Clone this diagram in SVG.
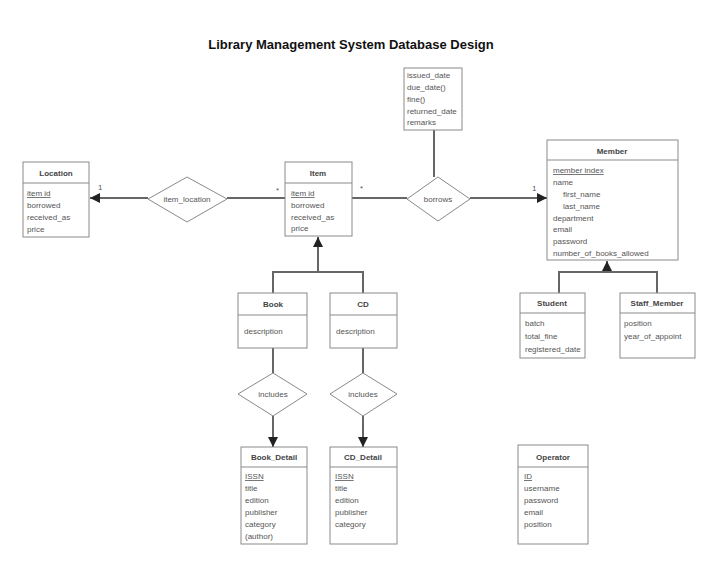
<svg xmlns="http://www.w3.org/2000/svg" width="720" height="565" viewBox="0 0 720 565">
<defs>
<marker id="arr" viewBox="0 0 10 10" refX="10" refY="5" markerWidth="5" markerHeight="5" orient="auto" markerUnits="strokeWidth">
<path d="M0,0 L10,5 L0,10 z" fill="#222"/>
</marker>
<style>
.box{fill:#fff;stroke:#8a8a8a;stroke-width:1}
.div{stroke:#8a8a8a;stroke-width:1}
.t{font-family:"Liberation Sans",Arial,sans-serif;font-size:8px;fill:#555}
.h{font-family:"Liberation Sans",Arial,sans-serif;font-size:8px;fill:#444;font-weight:bold;text-anchor:middle}
.c{text-anchor:middle}
.u{text-decoration:underline}
.ln{fill:none;stroke:#666;stroke-width:2}
.dm{fill:#fff;stroke:#8a8a8a;stroke-width:1}
.title{font-family:"Liberation Sans",Arial,sans-serif;font-size:13px;font-weight:bold;fill:#111;text-anchor:middle}
</style>
</defs>
<rect width="720" height="565" fill="#fff"/>
<text class="title" x="351" y="49">Library Management System Database Design</text>

<g id="connectors">
<line class="ln" x1="148" y1="198" x2="90" y2="198" marker-end="url(#arr)"/>
<line class="ln" x1="227" y1="198" x2="285" y2="198"/>
<line class="ln" x1="352" y1="198" x2="407" y2="198"/>
<line class="ln" x1="470" y1="198" x2="547" y2="198" marker-end="url(#arr)"/>
<line class="ln" x1="434" y1="130" x2="434" y2="177"/>
<polyline class="ln" points="273,293 273,272 363,272 363,293"/>
<line class="ln" x1="318" y1="272" x2="318" y2="237" marker-end="url(#arr)"/>
<polyline class="ln" points="559,293 559,272 657,272 657,293"/>
<line class="ln" x1="607" y1="272" x2="607" y2="261" marker-end="url(#arr)"/>
<line class="ln" x1="273" y1="348" x2="273" y2="373"/>
<line class="ln" x1="273" y1="416" x2="273" y2="447" marker-end="url(#arr)"/>
<line class="ln" x1="363" y1="348" x2="363" y2="373"/>
<line class="ln" x1="363" y1="416" x2="363" y2="447" marker-end="url(#arr)"/>
<text class="t" x="98" y="190">1</text>
<text class="t" x="276" y="193">*</text>
<text class="t" x="360" y="191">*</text>
<text class="t" x="532" y="191">1</text>
</g>

<g id="location">
<rect class="box" x="23" y="162" width="66" height="75"/>
<line class="div" x1="23" y1="183" x2="89" y2="183"/>
<text class="h" x="56" y="176">Location</text>
<text class="t u" x="27" y="196">item id</text>
<text class="t" x="27" y="208">borrowed</text>
<text class="t" x="27" y="220">received_as</text>
<text class="t" x="27" y="232">price</text>
</g>

<g id="item_location">
<polygon class="dm" points="148,199 187,177 227,199 187,222"/>
<text class="t c" x="187" y="202">item_location</text>
</g>

<g id="item">
<rect class="box" x="285" y="162" width="67" height="74"/>
<line class="div" x1="285" y1="183" x2="352" y2="183"/>
<text class="h" x="318" y="176">Item</text>
<text class="t u" x="291" y="196">item id</text>
<text class="t" x="291" y="208">borrowed</text>
<text class="t" x="291" y="220">received_as</text>
<text class="t" x="291" y="231">price</text>
</g>

<g id="borrows_attrs">
<rect class="box" x="404" y="68" width="58" height="62"/>
<text class="t" x="407" y="78">issued_date</text>
<text class="t" x="407" y="90">due_date()</text>
<text class="t" x="407" y="102">fine()</text>
<text class="t" x="407" y="114">returned_date</text>
<text class="t" x="407" y="125">remarks</text>
</g>

<g id="borrows">
<polygon class="dm" points="407,199 438,177 470,199 438,221"/>
<text class="t c" x="438" y="202">borrows</text>
</g>

<g id="member">
<rect class="box" x="547" y="140" width="131" height="120"/>
<line class="div" x1="547" y1="160" x2="678" y2="160"/>
<text class="h" x="612" y="154">Member</text>
<text class="t u" x="553" y="173">member index</text>
<text class="t" x="553" y="185">name</text>
<text class="t" x="563" y="197">first_name</text>
<text class="t" x="563" y="209">last_name</text>
<text class="t" x="553" y="221">department</text>
<text class="t" x="553" y="232">email</text>
<text class="t" x="553" y="244">password</text>
<text class="t" x="553" y="256">number_of_books_allowed</text>
</g>

<g id="student">
<rect class="box" x="520" y="293" width="65" height="65"/>
<line class="div" x1="520" y1="313" x2="585" y2="313"/>
<text class="h" x="552" y="306">Student</text>
<text class="t" x="525" y="326">batch</text>
<text class="t" x="525" y="339">total_fine</text>
<text class="t" x="525" y="352">registered_date</text>
</g>

<g id="staff_member">
<rect class="box" x="620" y="293" width="75" height="65"/>
<line class="div" x1="620" y1="313" x2="695" y2="313"/>
<text class="h" x="657" y="306">Staff_Member</text>
<text class="t" x="624" y="326">position</text>
<text class="t" x="624" y="339">year_of_appoint</text>
</g>

<g id="book">
<rect class="box" x="238" y="293" width="69" height="55"/>
<line class="div" x1="238" y1="315" x2="307" y2="315"/>
<text class="h" x="273" y="307">Book</text>
<text class="t" x="244" y="334">description</text>
</g>

<g id="cd">
<rect class="box" x="330" y="293" width="67" height="55"/>
<line class="div" x1="330" y1="315" x2="397" y2="315"/>
<text class="h" x="363" y="307">CD</text>
<text class="t" x="336" y="334">description</text>
</g>

<g id="includes_book">
<polygon class="dm" points="238,394 273,373 307,394 273,416"/>
<text class="t c" x="273" y="397">includes</text>
</g>

<g id="includes_cd">
<polygon class="dm" points="330,394 363,373 397,394 363,416"/>
<text class="t c" x="363" y="397">includes</text>
</g>

<g id="book_detail">
<rect class="box" x="241" y="447" width="66" height="97"/>
<line class="div" x1="241" y1="467" x2="307" y2="467"/>
<text class="h" x="274" y="460">Book_Detail</text>
<text class="t u" x="245" y="479">ISSN</text>
<text class="t" x="245" y="491">title</text>
<text class="t" x="245" y="503">edition</text>
<text class="t" x="245" y="515">publisher</text>
<text class="t" x="245" y="527">category</text>
<text class="t" x="245" y="539">(author)</text>
</g>

<g id="cd_detail">
<rect class="box" x="330" y="447" width="67" height="97"/>
<line class="div" x1="330" y1="467" x2="397" y2="467"/>
<text class="h" x="363" y="460">CD_Detail</text>
<text class="t u" x="335" y="479">ISSN</text>
<text class="t" x="335" y="491">title</text>
<text class="t" x="335" y="503">edition</text>
<text class="t" x="335" y="515">publisher</text>
<text class="t" x="335" y="527">category</text>
</g>

<g id="operator">
<rect class="box" x="518" y="445" width="70" height="99"/>
<line class="div" x1="518" y1="467" x2="588" y2="467"/>
<text class="h" x="553" y="460">Operator</text>
<text class="t u" x="524" y="479">ID</text>
<text class="t" x="524" y="491">username</text>
<text class="t" x="524" y="503">password</text>
<text class="t" x="524" y="515">email</text>
<text class="t" x="524" y="527">position</text>
</g>
</svg>
